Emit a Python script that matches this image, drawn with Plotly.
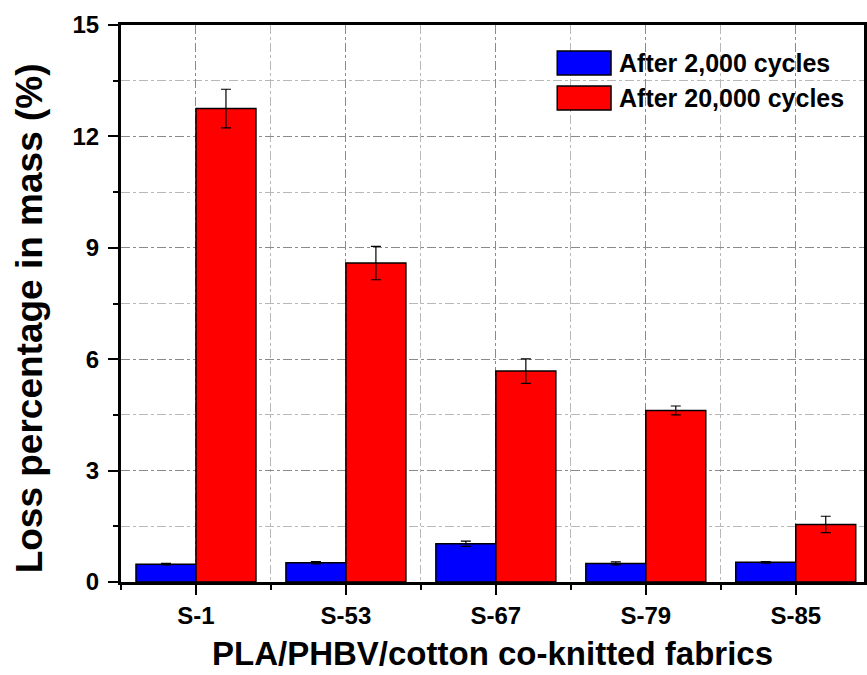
import plotly.graph_objects as go

categories = ["S-1", "S-53", "S-67", "S-79", "S-85"]
after_2000 = [0.48, 0.52, 1.03, 0.50, 0.53]
after_2000_err = [0.02, 0.03, 0.07, 0.04, 0.02]
after_20000 = [12.75, 8.59, 5.68, 4.62, 1.55]
after_20000_err = [0.52, 0.45, 0.33, 0.12, 0.22]
series_names = ["After 2,000 cycles", "After 20,000 cycles"]
colors = ["#0000FF", "#FF0000"]
y_ticks = [0, 3, 6, 9, 12, 15]

W, H = 867, 675
L, R, T, B = 121, 0, 25, 93
pw, ph = W - L - R, H - T - B

FONT = "Liberation Sans, Arial, sans-serif"
xpos = list(range(len(categories)))

fig = go.Figure()
for name, vals, errs, col in [
    (series_names[0], after_2000, after_2000_err, colors[0]),
    (series_names[1], after_20000, after_20000_err, colors[1]),
]:
    fig.add_trace(go.Bar(
        x=xpos, y=vals, name=name,
        marker=dict(color=col, line=dict(color="black", width=1.5)),
        error_y=dict(type="data", array=errs, visible=True, color="black",
                     thickness=1.2, width=5),
        showlegend=False,
    ))

fig.update_layout(
    width=W, height=H,
    margin=dict(l=L, r=R, t=T, b=B),
    barmode="group", bargap=0.2, bargroupgap=0,
    plot_bgcolor="white", paper_bgcolor="white",
    font=dict(family=FONT, color="black"),
)

fig.update_xaxes(
    range=[-0.5, -0.5 + pw / 150.55],
    tickmode="array", tickvals=xpos, ticktext=[f"<b>{c}</b>" for c in categories],
    tickfont=dict(size=24, family=FONT),
    ticks="outside", ticklen=10, tickwidth=2, tickcolor="black",
    showline=True, linewidth=3, linecolor="black", mirror=True,
    showgrid=True, gridcolor="#8a8a8a", griddash="dashdot", gridwidth=1,
    minor=dict(tickvals=[-0.5, 0.5, 1.5, 2.5, 3.5], ticks="outside", ticklen=5,
               tickwidth=2, tickcolor="black", showgrid=True,
               gridcolor="#b8b8b8", griddash="dashdot", gridwidth=1),
    title=dict(text="<b>PLA/PHBV/cotton co-knitted fabrics</b>",
               font=dict(size=33, family=FONT), standoff=15),
    zeroline=False,
)
fig.update_yaxes(
    range=[0, 15],
    tickmode="array", tickvals=y_ticks, ticktext=[f"<b>{v}</b>" for v in y_ticks],
    tickfont=dict(size=24, family=FONT), ticklabelstandoff=4,
    ticks="outside", ticklen=10, tickwidth=2, tickcolor="black",
    showline=True, linewidth=3, linecolor="black", mirror=True,
    showgrid=True, gridcolor="#8a8a8a", griddash="dashdot", gridwidth=1,
    minor=dict(dtick=1.5, tick0=0, ticks="outside", ticklen=5, tickwidth=2,
               tickcolor="black", showgrid=True, gridcolor="#b8b8b8",
               griddash="dashdot", gridwidth=1),
    zeroline=False,
)

def px(x):
    return (x - L) / pw

def py(y):
    return (H - B - y) / ph

# y-axis title placed to match reference position
fig.add_annotation(xref="paper", yref="paper", x=px(29), y=py(318),
                   xanchor="center", yanchor="middle", showarrow=False,
                   textangle=-90, text="<b>Loss percentage in mass (%)</b>",
                   font=dict(size=37, family=FONT, color="black"))

for i, (name, col) in enumerate(zip(series_names, colors)):
    yc = 63 + i * 35
    fig.add_shape(type="rect", xref="paper", yref="paper",
                  x0=px(559), x1=px(613), y0=py(yc + 12), y1=py(yc - 12),
                  fillcolor=col, line=dict(color="black", width=1.5))
    fig.add_annotation(xref="paper", yref="paper", x=px(619), y=py(yc),
                       xanchor="left", yanchor="middle", showarrow=False,
                       text=f"<b>{name}</b>",
                       font=dict(size=25, family=FONT, color="black"))

fig.write_html("out.html")
